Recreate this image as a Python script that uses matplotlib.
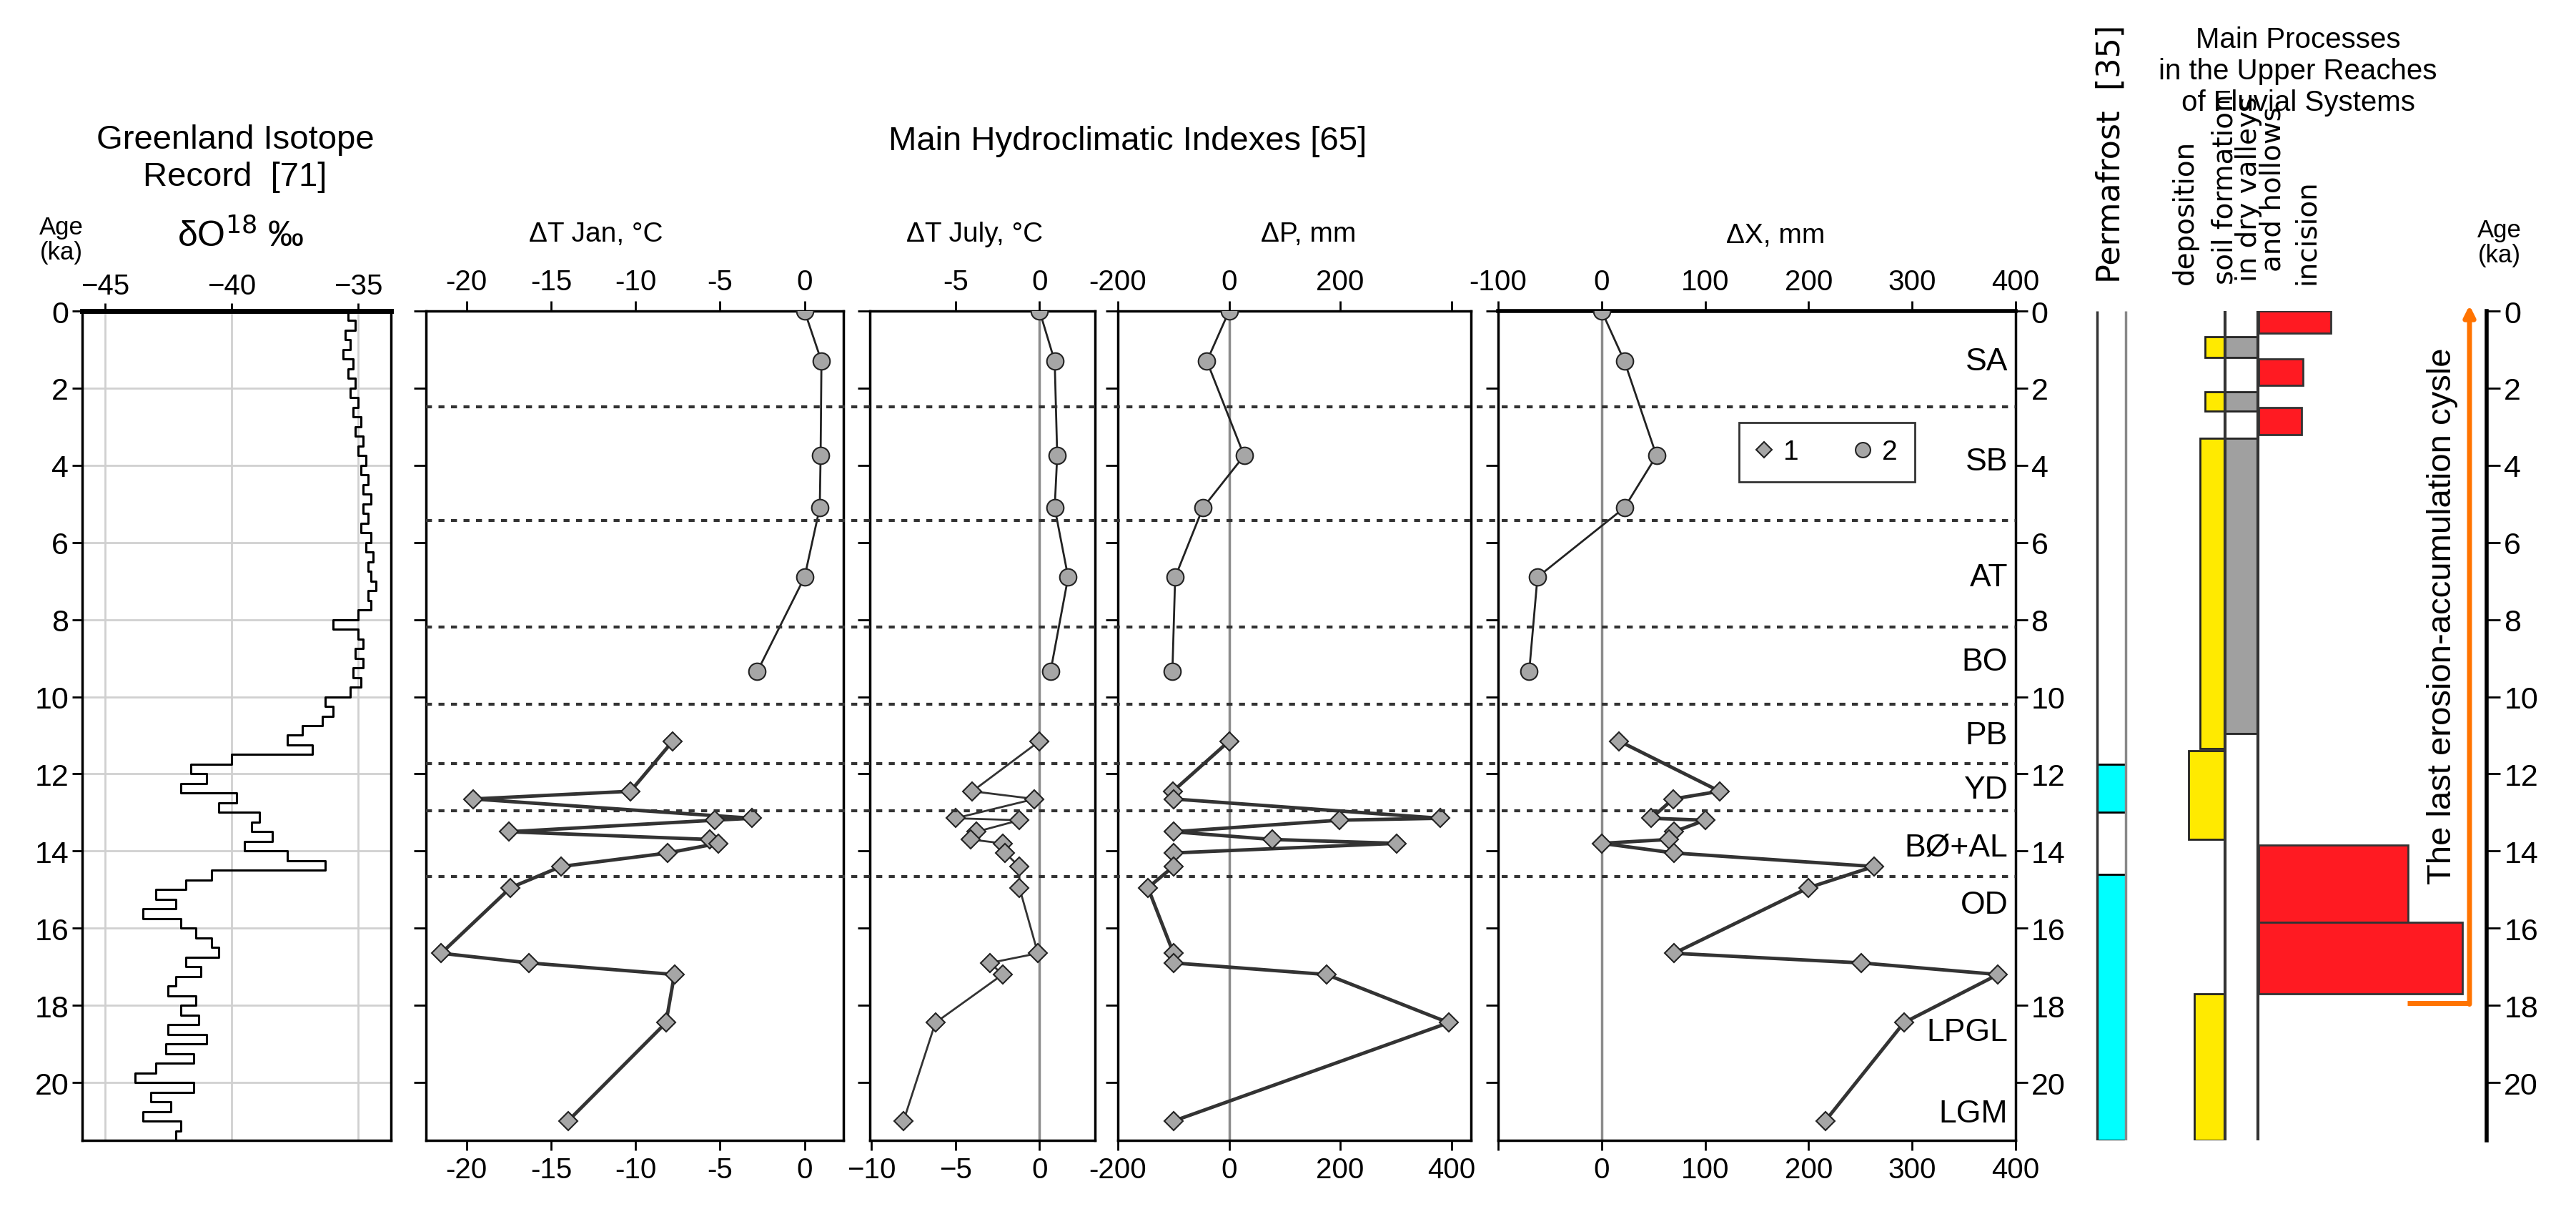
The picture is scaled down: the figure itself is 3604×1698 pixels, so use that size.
import matplotlib
matplotlib.use("Agg")
import matplotlib.pyplot as plt
from matplotlib import font_manager

names = {f.name for f in font_manager.fontManager.ttflist}
base = 'Liberation Sans Narrow' if 'Liberation Sans Narrow' in names else 'Liberation Sans'
plt.rcParams['font.family'] = [base, 'DejaVu Sans']

# --- data -------------------------------------------------------------
gisp_age = [0.0, 0.25, 0.5, 0.75, 1.0, 1.25, 1.5, 1.75, 2.0, 2.25, 2.5, 2.75, 3.0, 3.25, 3.5, 3.75,
            4.0, 4.25, 4.5, 4.75, 5.0, 5.25, 5.5, 5.75, 6.0, 6.25, 6.5, 6.75, 7.0, 7.25, 7.5, 7.75,
            8.0, 8.25, 8.5, 8.75, 9.0, 9.25, 9.5, 9.75, 10.0, 10.25, 10.5, 10.75, 11.0, 11.25, 11.5, 11.75,
            12.0, 12.25, 12.5, 12.75, 13.0, 13.25, 13.5, 13.75, 14.0, 14.25, 14.5, 14.75, 15.0, 15.25,
            15.5, 15.75, 16.0, 16.25, 16.5, 16.75, 17.0, 17.25, 17.5, 17.75, 18.0, 18.25, 18.5, 18.75,
            19.0, 19.25, 19.5, 19.75, 20.0, 20.25, 20.5, 20.75, 21.0, 21.25, 21.5]
gisp_d18o = [-35.0, -35.4, -35.1, -35.5, -35.3, -35.6, -35.2, -35.4, -35.1, -35.3, -35.0, -35.2,
             -34.9, -35.1, -34.8, -35.0, -34.7, -34.9, -34.6, -34.8, -34.5, -34.8, -34.6, -34.9,
             -34.5, -34.7, -34.4, -34.6, -34.5, -34.3, -34.6, -34.5,
             -35.0, -36.0, -35.0, -34.8, -35.1, -34.8, -35.2, -34.9, -35.3, -36.3, -36.0, -36.4,
             -37.2, -37.8, -36.8, -40.0, -41.6, -41.0, -42.0, -39.8, -40.5, -38.9, -39.2, -38.4,
             -39.5, -37.8, -36.3, -40.8, -41.8, -43.0, -42.2, -43.5, -42.0, -41.4, -40.8, -40.5,
             -41.8, -41.2, -42.2, -42.5, -41.4, -42.0, -41.3, -42.5, -41.0, -42.6, -41.5, -43.0,
             -43.8, -41.5, -43.2, -42.4, -43.5, -42.0, -42.2]

# series 2 (circles, Holocene)
age2 = [0.0, 1.3, 3.75, 5.1, 6.9, 9.35]
jan2 = [0.0, 1.0, 0.95, 0.9, 0.0, -2.8]
jul2 = [0.0, 0.9, 1.05, 0.9, 1.7, 0.65]
p2 = [0, -40, 27, -47, -97, -102]
x2 = [0, 22, 53, 22, -62, -70]

# series 1 (diamonds, Late Glacial)
age1 = [11.15, 12.45, 12.65, 13.15, 13.2, 13.5, 13.7, 13.8, 14.05, 14.4, 14.95, 16.65, 16.9, 17.2, 18.45, 21.0]
jan1 = [-7.8, -10.3, -19.6, -3.1, -5.3, -17.5, -5.6, -5.1, -8.1, -14.4, -17.4, -21.5, -16.3, -7.7, -8.2, -14.0]
jul1 = [0.0, -4.0, -0.3, -5.0, -1.2, -3.75, -4.1, -2.2, -2.05, -1.2, -1.2, -0.1, -2.95, -2.2, -6.2, -8.1]
p1 = [0, -101, -100, 380, 198, -100, 78, 301, -100, -100, -146, -100, -100, 175, 395, -100]
x1 = [17, 114, 69, 48, 100, 70, 65, 0, 70, 263, 200, 70, 251, 383, 292, 216]

boundaries = [2.48, 5.43, 8.2, 10.2, 11.74, 12.95, 14.67]
periods = ['SA', 'SB', 'AT', 'BO', 'PB', 'YD', 'BØ+AL', 'OD', 'LPGL', 'LGM']
period_age = [1.3, 3.9, 6.9, 9.1, 11.0, 12.4, 13.9, 15.4, 18.7, 20.8]

permafrost = [(11.75, 13.0), (14.6, 21.5)]
deposition = [(0.67, 1.2), (2.1, 2.6), (3.3, 11.35), (11.4, 13.7), (17.7, 21.5)]
soil = [(0.67, 1.2), (2.1, 2.6), (3.3, 10.95)]
incision = [(0.0, 0.57), (1.25, 1.92), (2.5, 3.2), (13.85, 15.85), (15.85, 17.7)]

# --- layout (pixels) --------------------------------------------------
W, H = 3604, 1699
fig = plt.figure(figsize=(W / 100, H / 100), dpi=100)
TOP, BOT = 436, 1596


def axes_px(x0, x1, y0=TOP, y1=BOT):
    return fig.add_axes([x0 / W, 1 - y1 / H, (x1 - x0) / W, (y1 - y0) / H])


AGE_MAX = 21.5
TICK_FS = 29
LAB_FS = 28
ROT_FS = 28
GRAY = '#a6a6a6'


def style(ax, xlim, xticks, top_labels, bottom_labels):
    ax.set_ylim(AGE_MAX, 0)
    ax.set_xlim(*xlim)
    for s in ax.spines.values():
        s.set_linewidth(2.5)
    ax.set_yticks(range(0, 22, 2))
    ax.tick_params(axis='y', direction='out', length=12, width=2, labelleft=False)
    ax.set_xticks(xticks)
    ax.set_xticklabels([str(t) for t in xticks])
    ax.tick_params(axis='x', top=top_labels is not None, labeltop=top_labels is not None,
                   bottom=bottom_labels, labelbottom=bottom_labels,
                   direction='out', length=10, width=2, labelsize=TICK_FS, pad=6)


def plot_series(ax, v1, v2, lw1=3.5):
    ax.plot(v2, age2, '-', color='#222222', lw=2, marker='o', ms=17,
            mfc=GRAY, mec='#222222', mew=1.5, zorder=4)
    ax.plot(v1, age1, '-', color='#333333', lw=lw1, marker='D', ms=13,
            mfc=GRAY, mec='#222222', mew=1.5, zorder=4)


# Greenland isotope record
axg = axes_px(115, 547)
axg.step(gisp_d18o, gisp_age, where='post', color='black', lw=2.2)
axg.set_ylim(AGE_MAX, 0)
axg.set_xlim(-45.9, -33.7)
axg.set_xticks([-45, -40, -35])
axg.set_yticks(range(0, 22, 2))
axg.grid(True, color='#d0d0d0', lw=2)
axg.tick_params(axis='x', top=True, labeltop=True, bottom=False, labelbottom=False,
                labelsize=TICK_FS, length=8, width=2)
axg.tick_params(axis='y', labelsize=TICK_FS + 2, length=10, width=2)
for s in axg.spines.values():
    s.set_linewidth(2.5)
axg.spines['top'].set_linewidth(5)
fig.text(329 / W, 1 - 222 / H, 'Greenland Isotope\nRecord  [71]', ha='center', va='center',
         fontsize=34, linespacing=1.25)
fig.text(337 / W, 1 - 330 / H, r'δO$^{18}$ ‰', ha='center', va='center', fontsize=36)
fig.text(86 / W, 1 - 336 / H, 'Age\n(ka)', ha='center', va='center', fontsize=25, linespacing=1.1)

# Delta T January
axj = axes_px(596, 1180)
style(axj, (-22.4, 2.3), [-20, -15, -10, -5, 0], True, True)
plot_series(axj, jan1, jan2)
fig.text(834 / W, 1 - 328 / H, 'ΔT Jan, °C', ha='center', va='center', fontsize=LAB_FS)

# Delta T July
axt = axes_px(1217, 1532)
style(axt, (-10.1, 3.3), [-5, 0], True, False)
axt.axvline(0, color='#8c8c8c', lw=2.5, zorder=1)
plot_series(axt, jul1, jul2, lw1=2)
fig.text(1364 / W, 1 - 328 / H, 'ΔT July, °C', ha='center', va='center', fontsize=LAB_FS)
axt_b = axt.secondary_xaxis('bottom')
axt_b.set_xticks([-10, -5, 0])
axt_b.tick_params(labelsize=TICK_FS, length=10, width=2, pad=6)

# Delta P
axp = axes_px(1564, 2058)
style(axp, (-200, 435), [-200, 0, 200, 400], None, True)
axp.axvline(0, color='#8c8c8c', lw=2.5, zorder=1)
plot_series(axp, p1, p2)
fig.text(1831 / W, 1 - 328 / H, 'ΔP, mm', ha='center', va='center', fontsize=LAB_FS)
axp_t = axp.secondary_xaxis('top')
axp_t.set_xticks([-200, 0, 200, 400])
axp_t.set_xticklabels(['-200', '0', '200', ''])
axp_t.tick_params(labelsize=TICK_FS, length=10, width=2, pad=6)

# Delta X
axx = axes_px(2096, 2820)
style(axx, (-100, 392), [-100, 0, 100, 200, 300, 400], True, False)
axx.spines['top'].set_linewidth(4)
axx.axvline(0, color='#8c8c8c', lw=2.5, zorder=1)
plot_series(axx, x1, x2)
fig.text(2484 / W, 1 - 330 / H, 'ΔX, mm', ha='center', va='center', fontsize=LAB_FS)
axx_b = axx.secondary_xaxis('bottom')
axx_b.set_xticks([-100, 0, 100, 200, 300, 400])
axx_b.set_xticklabels(['', '0', '100', '200', '300', '400'])
axx_b.tick_params(labelsize=TICK_FS, length=10, width=2, pad=6)
axx.tick_params(axis='y', right=True, labelright=True, left=True, labelsize=TICK_FS + 2)
for name, a in zip(periods, period_age):
    axx.text(0.985, a, name, transform=axx.get_yaxis_transform(), ha='right', va='center',
             fontsize=32)
h1, = axx.plot([], [], 'D', ms=11, mfc=GRAY, mec='#222222', mew=1.5, label='1')
h2, = axx.plot([], [], 'o', ms=15, mfc=GRAY, mec='#222222', mew=1.5, label='2')
leg = axx.legend(handles=[h1, h2], ncol=2, loc='center', bbox_to_anchor=(0.635, 0.83),
                 fontsize=28, frameon=True, fancybox=False, edgecolor='black',
                 handlelength=0.6, handletextpad=0.4, columnspacing=2.0, borderpad=0.6)
leg.get_frame().set_linewidth(2)

fig.text(1578 / W, 1 - 198 / H, 'Main Hydroclimatic Indexes [65]', ha='center', va='center',
         fontsize=34)

# dashed period boundaries across the hydroclimatic panels
axo = axes_px(596, 2820)
axo.set_ylim(AGE_MAX, 0)
axo.set_xlim(0, 1)
axo.axis('off')
axo.hlines(boundaries, 0, 1, colors='#333333', linestyles=(0, (2, 2.2)), lw=3, zorder=5)

# right: permafrost and processes
axr = axes_px(2900, 3479)
axr.set_ylim(AGE_MAX, 0)
axr.set_xlim(2900, 3479)
for s in ['top', 'left', 'bottom']:
    axr.spines[s].set_visible(False)
axr.spines['right'].set_linewidth(4)
axr.set_xticks([])
axr.set_yticks(range(0, 22, 2))
axr.tick_params(axis='y', left=False, labelleft=False, right=True, labelright=True,
                length=14, width=2, labelsize=TICK_FS + 2)

axr.vlines([2934], 0, AGE_MAX, color='#333333', lw=2.5)
axr.vlines([2974], 0, AGE_MAX, color='#888888', lw=2.5)
for a0, a1 in permafrost:
    axr.bar(2934, a1 - a0, bottom=a0, width=40, align='edge', color='#00ffff',
            edgecolor='black', lw=2)
dep_left = [3085, 3085, 3078, 3062, 3070]
for (a0, a1), xl in zip(deposition, dep_left):
    axr.bar(xl, a1 - a0, bottom=a0, width=3113 - xl, align='edge', color='#ffea00',
            edgecolor='#222222', lw=2)
for a0, a1 in soil:
    axr.bar(3113, a1 - a0, bottom=a0, width=46, align='edge', color='#a0a0a0',
            edgecolor='#222222', lw=2)
inc_right = [3261, 3222, 3220, 3369, 3445]
for (a0, a1), xr in zip(incision, inc_right):
    axr.bar(3160, a1 - a0, bottom=a0, width=xr - 3160, align='edge', color='#ff1a22',
            edgecolor='#333333', lw=2)
axr.vlines([3113, 3159], 0, AGE_MAX, color='#333333', lw=3)

axr.plot([3368, 3455], [17.95, 17.95], color='#ff7300', lw=5, solid_capstyle='butt')
axr.annotate('', xy=(3455, -0.15), xytext=(3455, 17.97), annotation_clip=False,
             arrowprops=dict(arrowstyle='-|>,head_length=0.9,head_width=0.45',
                             color='#ff7300', lw=5, shrinkA=0, shrinkB=0))
axr.text(3417, 7.9, 'The last erosion-accumulation cysle', rotation=90, ha='center',
         va='center', fontsize=34)

fig.text(2953 / W, 1 - 396 / H, 'Permafrost  [35]', rotation=90, ha='center', va='bottom',
         fontsize=32, family=['DejaVu Sans'])
fig.text(3215 / W, 1 - 100 / H, 'Main Processes\nin the Upper Reaches\nof Fluvial Systems',
         ha='center', va='center', fontsize=29, linespacing=1.2)
fig.text(3057 / W, 1 - 398 / H, 'deposition', rotation=90, ha='center', va='bottom',
         fontsize=ROT_FS, family=['DejaVu Sans'])
fig.text(3146 / W, 1 - 398 / H, 'soil formation\nin dry valleys\nand hollows', rotation=90,
         ha='center', va='bottom', fontsize=ROT_FS, family=['DejaVu Sans'], linespacing=0.85)
fig.text(3227 / W, 1 - 398 / H, 'incision', rotation=90, ha='center', va='bottom',
         fontsize=ROT_FS, family=['DejaVu Sans'])
fig.text(3497 / W, 1 - 340 / H, 'Age\n(ka)', ha='center', va='center', fontsize=25,
         linespacing=1.1)

fig.savefig('out.png', dpi=100)
